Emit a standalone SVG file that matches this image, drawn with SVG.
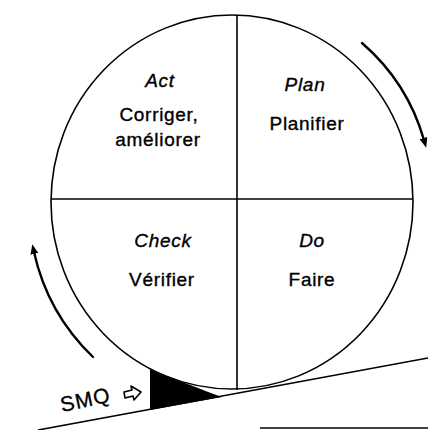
<svg xmlns="http://www.w3.org/2000/svg" width="428" height="430" viewBox="0 0 428 430">
<style>
.ln{fill:none;stroke:#000;stroke-width:1.6}
.arr{fill:none;stroke:#000;stroke-width:2.4;stroke-linecap:round}
.t{font-family:"Liberation Sans",Arial,sans-serif;font-size:19px;letter-spacing:0.7px;fill:#000;stroke:#000;stroke-width:0.35;text-anchor:middle}
.i{font-style:italic}
.s{text-anchor:start;font-size:21px;letter-spacing:1px}
</style>
<defs>
<marker id="ah" markerUnits="userSpaceOnUse" markerWidth="12" markerHeight="10" refX="2" refY="4" orient="auto">
<path d="M0,0 L10,4 L0,8 Z" fill="#000"/>
</marker>
</defs>
<rect width="428" height="430" fill="#fff"/>
<g id="connectors">
<path class="arr" d="M362,43 A202,202 0 0 1 424,140" marker-end="url(#ah)"/>
<path class="arr" d="M93,357 A208,208 0 0 1 34,252" marker-end="url(#ah)"/>
</g>
<g id="wheel">
<ellipse class="ln" cx="232" cy="202" rx="181" ry="187"/>
<line class="ln" x1="237" y1="15" x2="237" y2="390"/>
<line class="ln" x1="51" y1="199" x2="413" y2="199"/>
</g>
<g id="act">
<text class="t i" x="160" y="87">Act</text>
<text class="t" x="159" y="121">Corriger,</text>
<text class="t" x="158" y="146">améliorer</text>
</g>
<g id="plan">
<text class="t i" x="305" y="91">Plan</text>
<text class="t" x="307" y="130">Planifier</text>
</g>
<g id="check">
<text class="t i" x="163" y="247">Check</text>
<text class="t" x="162" y="286">Vérifier</text>
</g>
<g id="do">
<text class="t i" x="312" y="247">Do</text>
<text class="t" x="312" y="286">Faire</text>
</g>
<g id="slope">
<line class="ln" x1="38" y1="430" x2="428" y2="358" stroke-width="2"/>
<path d="M150,369 C175,379 200,389 222,397 L150,410 Z" fill="#000"/>
<line class="ln" x1="260" y1="428" x2="428" y2="428"/>
</g>
<g id="smq">
<text class="t s" x="62" y="412" transform="rotate(-12 62 412)">SMQ</text>
<path d="M124,392 L132,390 L131,386 L141,392 L134,400 L133,396 L125,398 Z" fill="#fff" stroke="#000" stroke-width="1.6" stroke-linejoin="round"/>
</g>
</svg>
